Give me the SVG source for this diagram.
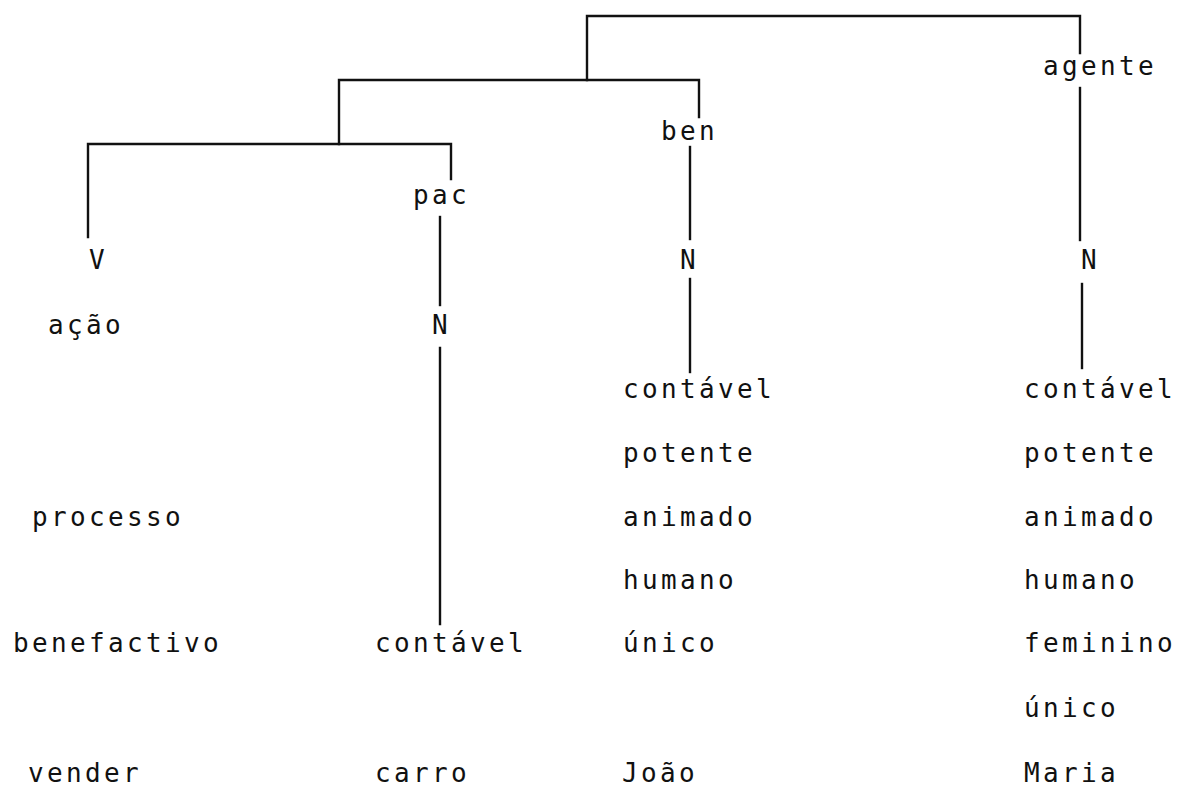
<svg xmlns="http://www.w3.org/2000/svg" width="1177" height="787" viewBox="0 0 1177 787">
  <style>
    .t { font-family: "DejaVu Sans Mono", "Liberation Mono", monospace; font-size: 26px; letter-spacing: 3.35px; fill: #111; }
    .c { stroke: #111; stroke-width: 2.4; fill: none; stroke-linecap: square; }
  </style>
  <rect width="1177" height="787" fill="#fff"/>

  <!-- tree branches -->
  <g id="connectors" class="c">
    <path d="M587 80 V16 H1080 V53"/>
    <path d="M339 144 V80 H699 V117"/>
    <path d="M88 237 V144 H451 V179"/>
    <path d="M440 217 V305"/>
    <path d="M440 348 V624"/>
    <path d="M690 147 V239"/>
    <path d="M690 279 V372"/>
    <path d="M1080 88 V240"/>
    <path d="M1082 284 V368"/>
  </g>

  <g id="agente"><text class="t" x="1043" y="75">agente</text></g>
  <g id="ben"><text class="t" x="661" y="140">ben</text></g>
  <g id="pac"><text class="t" x="413" y="204">pac</text></g>

  <g id="verbo">
    <text class="t" x="89" y="269">V</text>
    <text class="t" x="48" y="334">ação</text>
    <text class="t" x="32" y="526">processo</text>
    <text class="t" x="13" y="652">benefactivo</text>
    <text class="t" x="28" y="782">vender</text>
  </g>

  <g id="pac-n">
    <text class="t" x="432" y="334">N</text>
    <text class="t" x="375" y="652">contável</text>
    <text class="t" x="375" y="782">carro</text>
  </g>

  <g id="ben-n">
    <text class="t" x="680" y="269">N</text>
    <text class="t" x="623" y="398">contável</text>
    <text class="t" x="623" y="462">potente</text>
    <text class="t" x="623" y="526">animado</text>
    <text class="t" x="623" y="589">humano</text>
    <text class="t" x="623" y="652">único</text>
    <text class="t" x="622" y="782">João</text>
  </g>

  <g id="agente-n">
    <text class="t" x="1081" y="269">N</text>
    <text class="t" x="1024" y="398">contável</text>
    <text class="t" x="1024" y="462">potente</text>
    <text class="t" x="1024" y="526">animado</text>
    <text class="t" x="1024" y="589">humano</text>
    <text class="t" x="1024" y="652">feminino</text>
    <text class="t" x="1024" y="717">único</text>
    <text class="t" x="1024" y="782">Maria</text>
  </g>
</svg>
